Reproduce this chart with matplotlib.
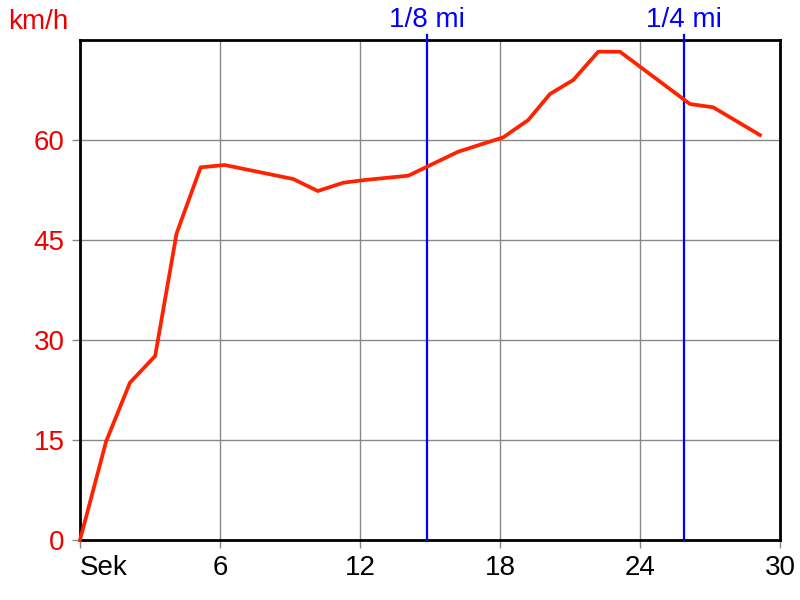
import matplotlib
matplotlib.use("Agg")
import matplotlib.pyplot as plt

# elapsed time (s) and speed (km/h)
sek = [0, 1.12, 2.14, 3.22, 4.14, 5.17, 6.2, 9.14, 10.19, 11.29, 12.2,
       14.07, 16.21, 18.14, 19.21, 20.14, 21.14, 22.21, 23.14, 26.14,
       27.14, 29.14]
kmh = [0, 14.8, 23.6, 27.6, 46.0, 55.9, 56.25, 54.15, 52.35, 53.6, 54.0,
       54.65, 58.25, 60.4, 63.0, 66.9, 69.0, 73.25, 73.25, 65.4,
       64.9, 60.75]

marks = [14.87, 25.89]
mark_labels = ["1/8 mi", "1/4 mi"]

xticks = [0, 6, 12, 18, 24, 30]
xticklabels = ["Sek", "6", "12", "18", "24", "30"]
yticks = [0, 15, 30, 45, 60]

plt.rcParams['font.family'] = ['Liberation Sans', 'DejaVu Sans']
FS = 20

fig = plt.figure(figsize=(8, 6), dpi=100)
ax = fig.add_axes([0.1, 0.1, 0.875, 0.8333])

ax.set_xlim(0, 30)
ax.set_ylim(0, 75)
ax.set_xticks(xticks)
ax.set_xticklabels(xticklabels, fontsize=FS)
ax.set_yticks(yticks)
ax.set_yticklabels([str(v) for v in yticks], fontsize=FS, color='#ee0000')
ax.grid(True, color='#888888', linewidth=1)
ax.tick_params(axis='both', length=6, color='#888888', width=1)
ax.tick_params(axis='x', pad=5)
ax.tick_params(axis='y', pad=5)
# "Sek" sits to the right of the 0 position
ax.get_xticklabels()[0].set_horizontalalignment('left')

for s in ax.spines.values():
    s.set_linewidth(2)
    s.set_color('black')

for m, lab in zip(marks, mark_labels):
    ax.plot([m, m], [0, 75.8], color='#0000ff', linewidth=1.6, clip_on=False, zorder=3)
    ax.text(m, 78.0, lab, color='#0000ff', fontsize=FS, ha='center', va='center')

ax.plot(sek, kmh, color='#ff2200', linewidth=2.7, zorder=4, clip_on=False)

fig.text(0.01, 0.963, "km/h", color='#ee0000', fontsize=FS, ha='left', va='center')

fig.savefig("out.png", dpi=100)
